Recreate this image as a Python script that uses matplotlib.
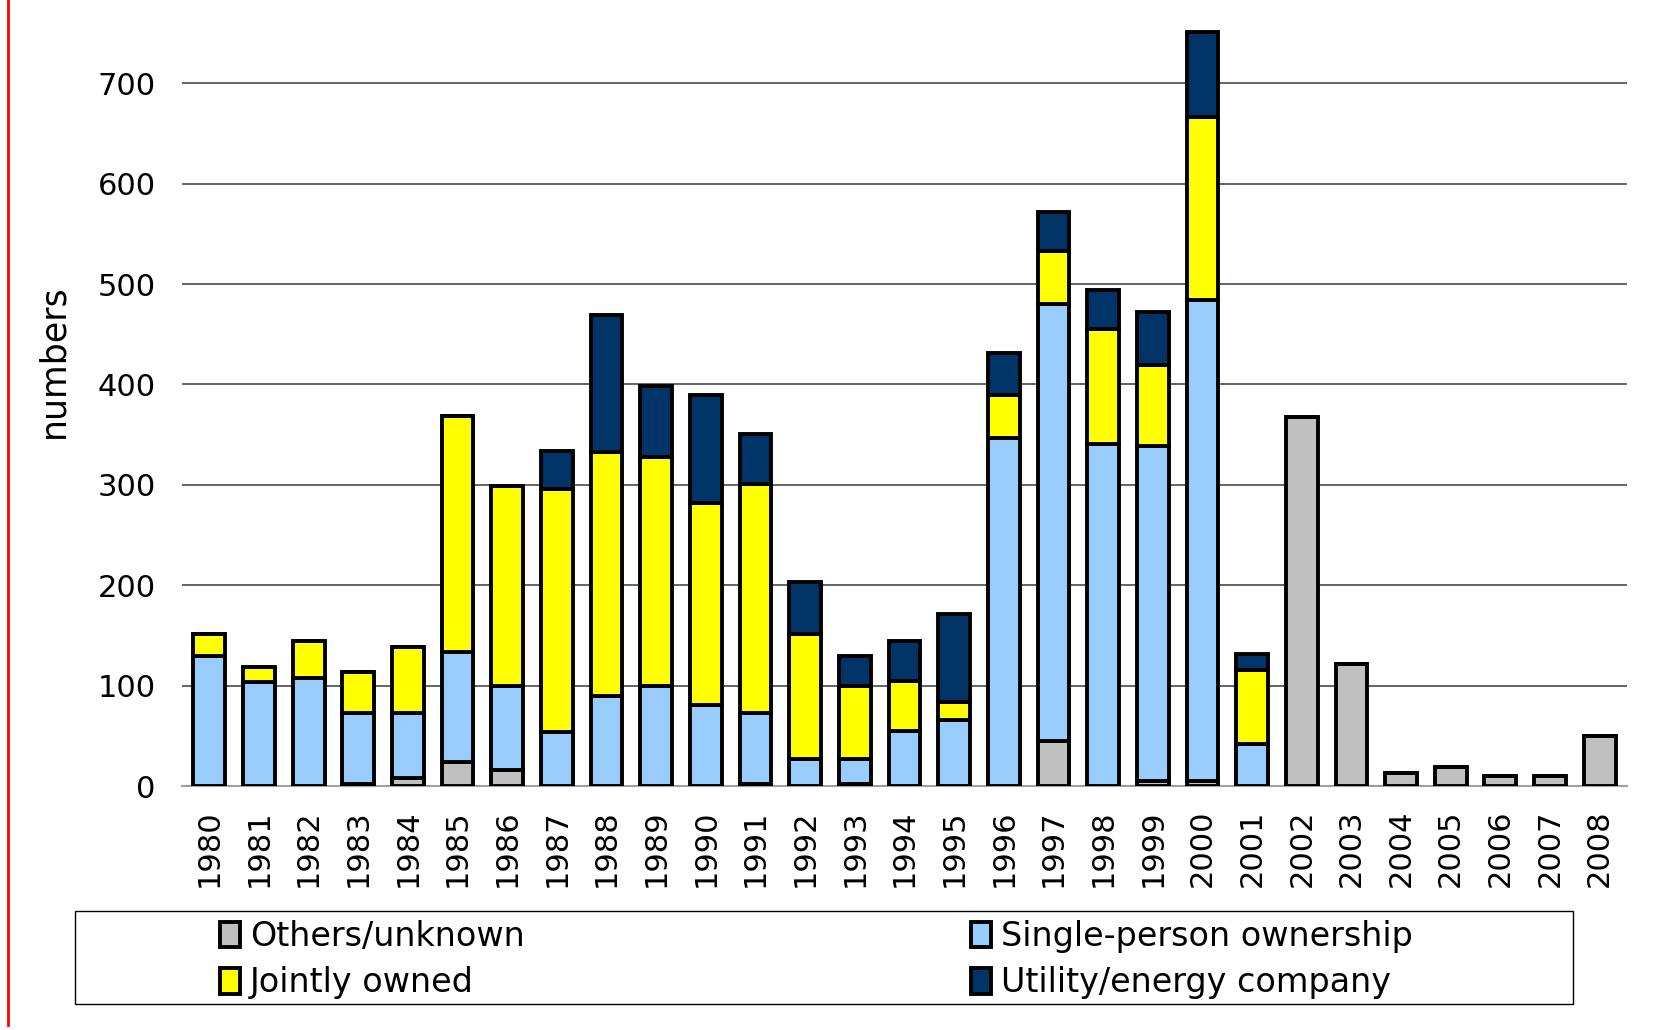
#!/usr/bin/env python
"""Stacked bars of yearly numbers by ownership type, 1980-2008. Output: out.png"""
import matplotlib

matplotlib.use("Agg")
import matplotlib.pyplot as plt
from matplotlib.lines import Line2D
from matplotlib.patches import Rectangle
import numpy as np

years = [str(y) for y in range(1980, 2009)]
others = [0, 0, 0, 2, 8, 24, 16, 0, 0, 0, 0, 2, 0, 2, 0, 0,
          0, 45, 0, 5, 5, 0, 368, 122, 13, 19, 10, 10, 50]
single = [129, 104, 108, 71, 65, 109, 84, 54, 90, 100, 81, 71, 27, 25, 55, 66,
          347, 435, 341, 334, 479, 42, 0, 0, 0, 0, 0, 0, 0]
jointly = [22, 15, 36, 41, 65, 236, 199, 242, 243, 228, 201, 228, 124, 73, 50, 18,
           42, 53, 114, 80, 182, 74, 0, 0, 0, 0, 0, 0, 0]
utility = [0, 0, 0, 0, 0, 0, 0, 38, 136, 70, 107, 50, 52, 29, 39, 87,
           42, 39, 39, 53, 85, 15, 0, 0, 0, 0, 0, 0, 0]

series = [
    ("Others/unknown", others, "#C0C0C0"),
    ("Single-person ownership", single, "#99CCFF"),
    ("Jointly owned", jointly, "#FFFF00"),
    ("Utility/energy company", utility, "#003366"),
]

W, H = 1657, 1030
fig = plt.figure(figsize=(W / 100, H / 100), dpi=100)
ax = fig.add_axes([182 / W, 1 - 786 / H, (1627 - 182) / W, (786 - 23) / H])

x = np.arange(len(years))
bottom = np.zeros(len(years))
handles = {}
for name, vals, color in series:
    vals = np.array(vals, dtype=float)
    bars = ax.bar(x, vals, width=0.64, bottom=bottom, color=color,
                  edgecolor="black", linewidth=2.8, zorder=3)
    handles[name] = bars
    bottom += vals

ax.set_xlim(-0.55, len(years) - 0.45)
ax.set_ylim(0, 760)
ax.set_yticks(range(0, 800, 100))
ax.yaxis.grid(True, color="#3a3a3a", lw=1.1, zorder=0)
for s in ["top", "right", "left"]:
    ax.spines[s].set_visible(False)
ax.spines["bottom"].set_color("#a0a0a0")
ax.spines["bottom"].set_linewidth(1.5)
ax.tick_params(axis="both", length=0, labelsize=22)
ax.tick_params(axis="y", pad=19)
ax.tick_params(axis="x", pad=17)
ax.set_xticks(x)
ax.set_xticklabels(years, rotation=90)

fig.text(53 / W, 1 - 361 / H, "numbers", rotation=90, fontsize=25,
         ha="center", va="center")

# legend frame + entries
fig.add_artist(Rectangle((75 / W, 1 - 1004 / H), 1498 / W, 93 / H,
                         transform=fig.transFigure, fill=False,
                         edgecolor="black", lw=1.0))
order = ["Others/unknown", "Jointly owned", "Single-person ownership",
         "Utility/energy company"]
fig.legend([handles[n] for n in order], order, ncol=2, frameon=False,
           loc="upper left", bbox_to_anchor=(220 / W, 1 - 920 / H),
           fontsize=24, handlelength=0.6, handleheight=0.8, handletextpad=0.3,
           columnspacing=13.4, labelspacing=0.4, borderaxespad=0, borderpad=0)

# red rule on the left edge
fig.add_artist(Line2D([8 / W, 8 / W], [1 - 1025 / H, 1], transform=fig.transFigure,
                      color="#ff0000", lw=2))

fig.savefig("out.png", dpi=100)
